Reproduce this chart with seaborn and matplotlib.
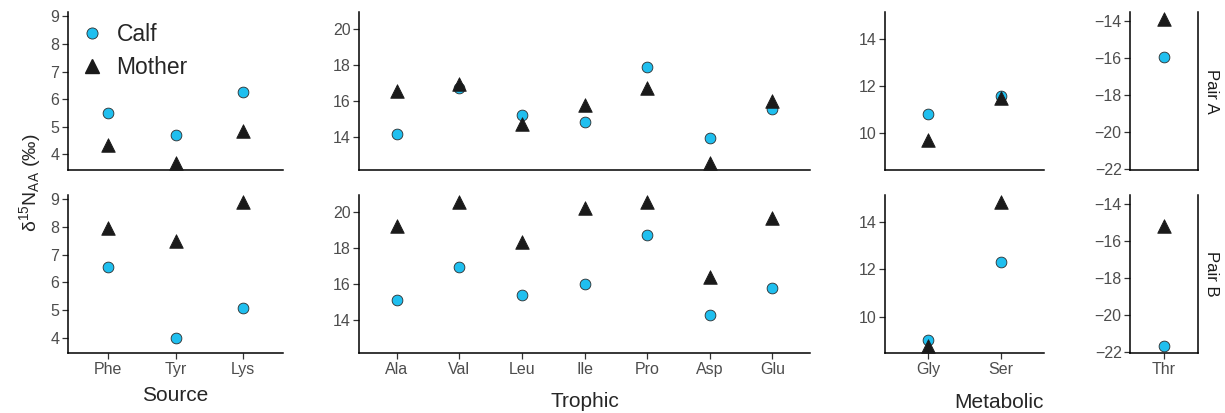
import numpy as np
import pandas as pd
import matplotlib
matplotlib.use("Agg")
import matplotlib.pyplot as plt
from matplotlib.lines import Line2D
from matplotlib.ticker import MultipleLocator
import seaborn as sns

# amino acid groups (one plot each, two rows: Pair A / Pair B)
source_aa = ["Phe", "Tyr", "Lys"]
trophic_aa = ["Ala", "Val", "Leu", "Ile", "Pro", "Asp", "Glu"]
metabolic_aa = ["Gly", "Ser"]
thr_aa = ["Thr"]

# delta15N values
source_calf_a = [5.50, 4.71, 6.25]
source_mother_a = [4.33, 3.69, 4.86]
source_calf_b = [6.56, 3.98, 5.07]
source_mother_b = [7.98, 7.50, 8.90]

trophic_calf_a = [14.20, 16.72, 15.21, 14.87, 17.91, 13.93, 15.56]
trophic_mother_a = [16.54, 16.94, 14.75, 15.77, 16.72, 12.58, 15.99]
trophic_calf_b = [15.15, 16.98, 15.41, 16.01, 18.73, 14.33, 15.79]
trophic_mother_b = [19.25, 20.55, 18.34, 20.22, 20.55, 16.43, 19.67]

metabolic_calf_a = [10.83, 11.60]
metabolic_mother_a = [9.71, 11.50]
metabolic_calf_b = [9.02, 12.29]
metabolic_mother_b = [8.75, 14.84]

thr_calf_a = [-15.94]
thr_mother_a = [-13.92]
thr_calf_b = [-21.68]
thr_mother_b = [-15.23]

pairs = ["Pair A", "Pair B"]
animals = ["Calf", "Mother"]

CALF_COLOR = "#1FBFEF"
MOTHER_COLOR = "#1A1A1A"
W, H = 1225, 413


def make_frame(aa, calf_a, mother_a, calf_b, mother_b):
    rows = []
    for pair, calf, mother in [("Pair A", calf_a, mother_a), ("Pair B", calf_b, mother_b)]:
        for name, vals in [("Calf", calf), ("Mother", mother)]:
            for a, v in zip(aa, vals):
                rows.append({"aa": a, "d15N": v, "animal": name, "pair": pair})
    return pd.DataFrame(rows)


groups = [
    ("Source", source_aa, make_frame(source_aa, source_calf_a, source_mother_a, source_calf_b, source_mother_b)),
    ("Trophic", trophic_aa, make_frame(trophic_aa, trophic_calf_a, trophic_mother_a, trophic_calf_b, trophic_mother_b)),
    ("Metabolic", metabolic_aa, make_frame(metabolic_aa, metabolic_calf_a, metabolic_mother_a, metabolic_calf_b, metabolic_mother_b)),
    ("", thr_aa, make_frame(thr_aa, thr_calf_a, thr_mother_a, thr_calf_b, thr_mother_b)),
]

# panel extents in pixels (x0, x1) per column, (y0, y1) per row
col_px = [(67.7, 283.3), (359, 810), (885, 1044), (1130, 1198)]
row_px = [(12, 170), (195, 353.3)]
xlabel_pos = [(175.5, 386), (584.5, 392), (999, 393)]
tick_steps = [1, 2, 2, 2]

sns.set_theme(style="ticks")
plt.rcParams["font.family"] = ["Liberation Sans", "DejaVu Sans"]
plt.rcParams["mathtext.default"] = "regular"

fig = plt.figure(figsize=(W / 100, H / 100), dpi=100)


def px_rect(x0, x1, y0, y1):
    return [x0 / W, 1 - y1 / H, (x1 - x0) / W, (y1 - y0) / H]


for ci, (title, aa, df) in enumerate(groups):
    lo, hi = df["d15N"].min(), df["d15N"].max()
    pad = (hi - lo) * 0.05
    for ri, pair in enumerate(pairs):
        ax = fig.add_axes(px_rect(*col_px[ci], *row_px[ri]))
        sub = df[df["pair"] == pair]
        sns.scatterplot(data=sub[sub["animal"] == "Calf"], x="aa", y="d15N", marker="o",
                        s=60, color=CALF_COLOR, edgecolor="#2b2b2b", linewidth=0.6, ax=ax,
                        zorder=3, clip_on=False)
        sns.scatterplot(data=sub[sub["animal"] == "Mother"], x="aa", y="d15N", marker="^",
                        s=95, color=MOTHER_COLOR, edgecolor=MOTHER_COLOR, linewidth=0.6, ax=ax,
                        zorder=4, clip_on=False)
        ax.set_xlim(-0.6, len(aa) - 0.4)
        ax.set_ylim(lo - pad, hi + pad)
        ax.yaxis.set_major_locator(MultipleLocator(tick_steps[ci]))
        ax.set_xlabel("")
        ax.set_ylabel("")
        sns.despine(ax=ax, right=(ci != 3))
        for sp in ax.spines.values():
            sp.set_linewidth(1.1)
            sp.set_color("black")
        ax.tick_params(axis="both", labelsize=11.5, labelcolor="#4D4D4D", length=4,
                       width=0.9, color="#333333", pad=2)
        if ri == 0:
            ax.tick_params(axis="x", bottom=False, labelbottom=False)
        if ci == 3:
            ax.text(1.09, 0.5, pair, transform=ax.transAxes, rotation=-90,
                    ha="left", va="center", fontsize=12, color="#1A1A1A")
        if ci == 0 and ri == 0:
            handles = [
                Line2D([], [], marker="o", ls="", ms=8, mfc=CALF_COLOR, mec="#2b2b2b", mew=0.6),
                Line2D([], [], marker="^", ls="", ms=10, mfc=MOTHER_COLOR, mec=MOTHER_COLOR),
            ]
            ax.legend(handles, animals, loc="upper left", bbox_to_anchor=(-0.045, 1.06),
                      frameon=False, fontsize=16.5, handletextpad=0.45, labelspacing=0.45,
                      handlelength=1.2)

for (x, y), (title, *_rest) in zip(xlabel_pos, groups):
    fig.text(x / W, 1 - y / H, title, ha="center", va="top", fontsize=15)

fig.text(30 / W, 1 - 183 / H, "δ$^{15}$N$_{AA}$ (‰)", rotation=90,
         ha="center", va="center", fontsize=14)

fig.savefig("out.png", dpi=100)
